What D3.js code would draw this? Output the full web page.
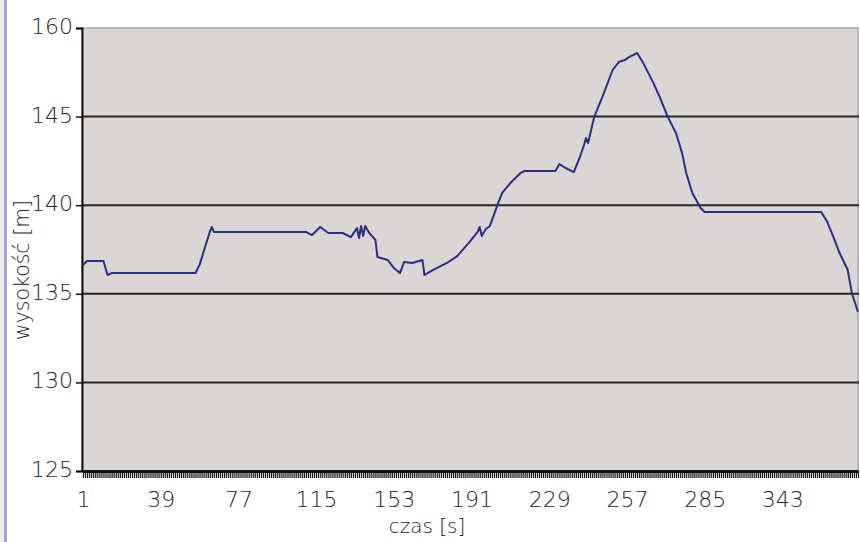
<!DOCTYPE html>
<html>
<head>
<meta charset="utf-8">
<script src="https://cdn.jsdelivr.net/npm/d3@7"></script>
<style>
  html, body { margin: 0; padding: 0; background: #ffffff; }
  svg { display: block; }
</style>
</head>
<body>
<svg id="chart" width="860" height="542"></svg>
<script>
// time [s]
const times = [1,3,11,13,15,56,58,61,63,64,65,110,112,113,117,121,128,132,135,136,137,138,139,141,144,145,150,153,156,158,162,167,168,172,179,184,190,194,195,196,198,200,204,206,210,215,217,232,234,237,241,244,246,247,248,251,255,260,263,266,268,272,275,280,283,287,291,294,296,299,303,305,362,365,368,371,375,377,380];
// altitude [m]
const heights = [136.63,136.85,136.85,136.06,136.17,136.17,136.63,137.75,138.49,138.77,138.49,138.49,138.37,138.32,138.77,138.43,138.43,138.20,138.71,138.15,138.83,138.26,138.83,138.43,138.04,137.08,136.91,136.46,136.17,136.79,136.74,136.91,136.06,136.34,136.74,137.13,137.92,138.49,138.77,138.26,138.66,138.83,140.12,140.69,141.25,141.82,141.93,141.93,142.32,142.10,141.87,142.72,143.40,143.79,143.51,144.98,146.11,147.63,148.08,148.19,148.36,148.59,148.02,146.89,146.11,144.98,144.07,142.94,141.82,140.69,139.84,139.62,139.62,139.05,138.20,137.30,136.34,135.04,133.97];

const xTickValues = [1,39,77,115,153,191,229,267,305,343];
const xTickLabels = ["1","39","77","115","153","191","229","257","285","343"];
const yTickValues = [125,130,135,140,145,150];
const yTickLabels = ["125","130","135","140","145","160"];
const xTitle = "czas [s]";
const yTitle = "wysokość [m]";

const FONT = "'DejaVu Sans', Lato, sans-serif";
const TXT = "#262626";

const svg = d3.select("#chart");
const m = {left: 82, right: 858, top: 28, bottom: 471};

const x = d3.scaleLinear().domain([1, 380]).range([m.left + 1, m.right]);
const y = d3.scaleLinear().domain([125, 150]).range([m.bottom, m.top]);

// left decorative border
svg.append("rect").attr("x", 0).attr("y", 0).attr("width", 4).attr("height", 542).attr("fill", "#ececf0");
svg.append("rect").attr("x", 4).attr("y", 0).attr("width", 3).attr("height", 542).attr("fill", "#a79fcf");

// plot background
svg.append("rect")
  .attr("x", m.left).attr("y", m.top)
  .attr("width", m.right - m.left).attr("height", m.bottom - m.top)
  .attr("fill", "#d9d6d5")
  .attr("stroke", "#a8a6a6").attr("stroke-width", 1.5);

// gridlines
svg.append("g").selectAll("line")
  .data(yTickValues.filter(v => v > 125 && v < 150))
  .join("line")
  .attr("x1", m.left).attr("x2", m.right + 1)
  .attr("y1", d => y(d)).attr("y2", d => y(d))
  .attr("stroke", "#262626").attr("stroke-width", 2);

// y axis
const yAxis = d3.axisLeft(y).tickValues(yTickValues)
  .tickFormat((d, i) => yTickLabels[i]).tickSize(6).tickPadding(3);
const gy = svg.append("g").attr("transform", `translate(${m.left},0)`).call(yAxis);
gy.select(".domain").attr("stroke", "#111").attr("stroke-width", 2);
gy.selectAll(".tick line").attr("stroke", "#111").attr("stroke-width", 1.5);
gy.selectAll(".tick text").attr("font-size", 22).attr("dy", "0.25em")
  .attr("font-family", FONT).attr("font-weight", 200).attr("fill", TXT);

// x axis: dense category ticks
const allTicks = d3.range(1, 381);
const xAxisTicks = d3.axisBottom(x).tickValues(allTicks).tickFormat("").tickSize(7).tickSizeOuter(0);
const gxt = svg.append("g").attr("transform", `translate(0,${m.bottom})`).call(xAxisTicks);
gxt.select(".domain").attr("stroke", "#111").attr("stroke-width", 3);
gxt.selectAll(".tick line").attr("stroke", "#111").attr("stroke-width", 1.2);

const xAxisLabels = d3.axisBottom(x).tickValues(xTickValues)
  .tickFormat((d, i) => xTickLabels[i]).tickSize(0).tickPadding(20);
const gx = svg.append("g").attr("transform", `translate(0,${m.bottom})`).call(xAxisLabels);
gx.select(".domain").remove();
gx.selectAll(".tick text").attr("font-size", 22)
  .attr("font-family", FONT).attr("font-weight", 200).attr("fill", TXT);

// data line
const line = d3.line().x((d, i) => x(times[i])).y(d => y(d));
svg.append("path")
  .datum(heights)
  .attr("d", line)
  .attr("fill", "none")
  .attr("stroke", "#2f2f78")
  .attr("stroke-width", 2)
  .attr("stroke-linejoin", "round");

// axis titles
svg.append("text").attr("x", 427).attr("y", 533)
  .attr("text-anchor", "middle").attr("font-size", 20)
  .attr("font-family", FONT).attr("font-weight", 200).attr("fill", TXT).text(xTitle);
svg.append("text")
  .attr("transform", "translate(29,270) rotate(-90)")
  .attr("text-anchor", "middle").attr("font-size", 20.5)
  .attr("font-family", FONT).attr("font-weight", 200).attr("fill", TXT).text(yTitle);
</script>
</body>
</html>
